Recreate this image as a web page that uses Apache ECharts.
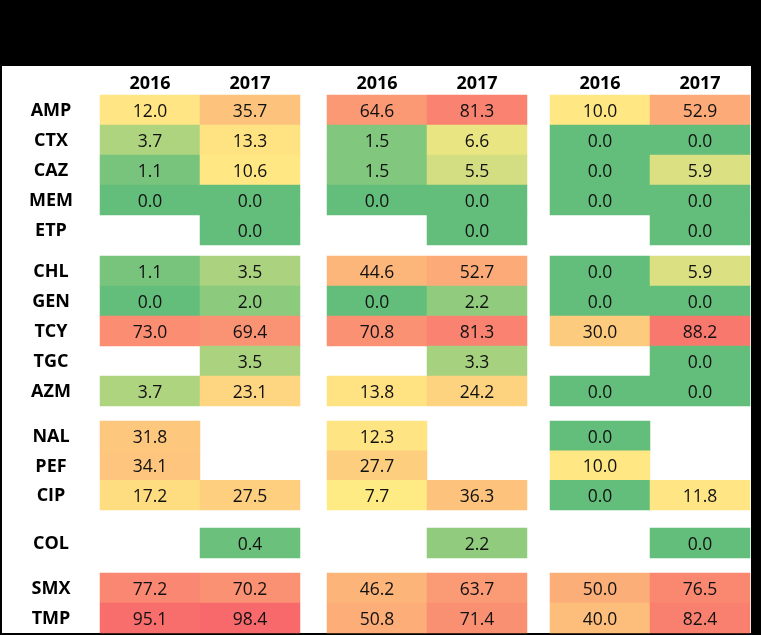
<!DOCTYPE html>
<html>
<head>
<meta charset="utf-8">
<script src="https://cdn.jsdelivr.net/npm/echarts@6/dist/echarts.min.js"></script>
<style>
html,body{margin:0;padding:0;background:#000;}
#chart{width:761px;height:635px;}
</style>
</head>
<body>
<div id="chart"></div>
<script>
// ---- data ----
const rowNames = ['AMP','CTX','CAZ','MEM','ETP','CHL','GEN','TCY','TGC','AZM','NAL','PEF','CIP','COL','SMX','TMP'];
const groupSizes = [5, 5, 3, 1, 2];
const years = ['2016', '2017'];
const p1y2016 = [12.0, 3.7, 1.1, 0.0, null, 1.1, 0.0, 73.0, null, 3.7, 31.8, 34.1, 17.2, null, 77.2, 95.1];
const p1y2017 = [35.7, 13.3, 10.6, 0.0, 0.0, 3.5, 2.0, 69.4, 3.5, 23.1, null, null, 27.5, 0.4, 70.2, 98.4];
const p2y2016 = [64.6, 1.5, 1.5, 0.0, null, 44.6, 0.0, 70.8, null, 13.8, 12.3, 27.7, 7.7, null, 46.2, 50.8];
const p2y2017 = [81.3, 6.6, 5.5, 0.0, 0.0, 52.7, 2.2, 81.3, 3.3, 24.2, null, null, 36.3, 2.2, 63.7, 71.4];
const p3y2016 = [10.0, 0.0, 0.0, 0.0, null, 0.0, 0.0, 30.0, null, 0.0, 0.0, 10.0, 0.0, null, 50.0, 40.0];
const p3y2017 = [52.9, 0.0, 5.9, 0.0, 0.0, 5.9, 0.0, 88.2, 0.0, 0.0, null, null, 11.8, 0.0, 76.5, 82.4];
const panels = [[p1y2016, p1y2017], [p2y2016, p2y2017], [p3y2016, p3y2017]];

// ---- layout (pixels) ----
const panelX = [[100, 300], [327, 527], [550, 750]];
const groupY = [[95, 245], [256, 406], [421, 510], [528, 558], [573, 633]];

// ---- 3-colour scale (min / median / max over all values) ----
const all = [];
panels.forEach(p => p.forEach(arr => arr.forEach(v => { if (v !== null) all.push(v); })));
const sorted = all.slice().sort((a, b) => a - b);
function percentile(s, q) {
  const pos = (s.length - 1) * q, lo = Math.floor(pos), hi = Math.ceil(pos);
  return s[lo] + (s[hi] - s[lo]) * (pos - lo);
}
const vMin = sorted[0], vMid = percentile(sorted, 0.5), vMax = sorted[sorted.length - 1];
const cLow = [99, 190, 123], cMid = [255, 235, 132], cHigh = [248, 105, 107];
function mix(a, b, t) { return a.map((x, i) => Math.round(x + (b[i] - x) * t)); }
function colorFor(v) {
  let c;
  if (v <= vMid) c = mix(cLow, cMid, vMid === vMin ? 1 : (v - vMin) / (vMid - vMin));
  else c = mix(cMid, cHigh, (v - vMid) / (vMax - vMid));
  return 'rgb(' + c.join(',') + ')';
}

const FONT = 'Open Sans';
const grids = [], xAxes = [], yAxes = [], series = [];
let start = 0;
groupSizes.forEach((size, g) => {
  const names = rowNames.slice(start, start + size);
  panelX.forEach((px, p) => {
    const idx = grids.length;
    grids.push({ left: px[0], top: groupY[g][0], width: px[1] - px[0], height: groupY[g][1] - groupY[g][0] });
    xAxes.push({
      type: 'category', data: years, gridIndex: idx, position: 'top',
      axisLine: { show: false }, axisTick: { show: false }, splitLine: { show: false },
      axisLabel: { show: g === 0, margin: 11, verticalAlign: 'middle', color: '#000',
        fontFamily: FONT, fontWeight: 'bold', fontSize: 18 }
    });
    yAxes.push({
      type: 'category', data: names, gridIndex: idx, inverse: true,
      axisLine: { show: false }, axisTick: { show: false }, splitLine: { show: false },
      axisLabel: { show: p === 0, margin: 49, align: 'center', verticalAlign: 'top', color: '#000',
        padding: [-9, 0, 0, 0], lineHeight: 20,
        fontFamily: FONT, fontWeight: 'bold', fontSize: 18 }
    });
    const data = [];
    panels[p].forEach((arr, yi) => {
      for (let r = 0; r < size; r++) {
        const v = arr[start + r];
        if (v !== null) data.push({ value: [yi, r, v], itemStyle: { color: colorFor(v) } });
      }
    });
    series.push({
      type: 'heatmap', xAxisIndex: idx, yAxisIndex: idx, data: data,
      label: { show: true, color: '#111', fontFamily: FONT, fontSize: 17.5, offset: [0, 2],
        formatter: d => d.value[2].toFixed(1) },
      emphasis: { disabled: true }, animation: false
    });
  });
  start += size;
});

const chart = echarts.init(document.getElementById('chart'), null, { renderer: 'canvas' });
chart.setOption({
  backgroundColor: '#000',
  animation: false,
  graphic: [{ type: 'rect', z: -10, shape: { x: 2, y: 66, width: 749, height: 567 }, style: { fill: '#fff' } }],
  grid: grids, xAxis: xAxes, yAxis: yAxes, series: series
});
</script>
</body>
</html>
